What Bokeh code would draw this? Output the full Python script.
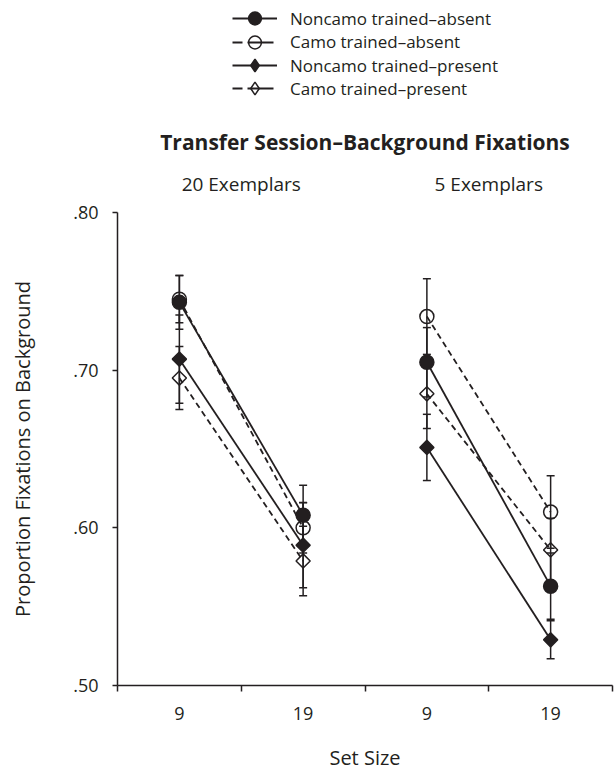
import numpy as np
from bokeh.plotting import figure
from bokeh.models import (Range1d, FixedTicker, Label, Legend, LegendItem,
                          CustomJSTickFormatter)
from bokeh.layouts import column
from bokeh.embed import file_html
from bokeh.resources import INLINE

# --- data -------------------------------------------------------------
panels = ["20 Exemplars", "5 Exemplars"]
set_sizes = ["9", "19", "9", "19"]          # two set sizes per panel
y_ticks = [0.50, 0.60, 0.70, 0.80]

noncamo_absent = [0.743, 0.608, 0.705, 0.563]
camo_absent = [0.745, 0.600, 0.734, 0.610]
noncamo_present = [0.707, 0.589, 0.651, 0.529]
camo_present = [0.695, 0.579, 0.685, 0.586]

noncamo_absent_se = [0.017, 0.019, 0.022, 0.021]
camo_absent_se = [0.015, 0.016, 0.024, 0.023]
noncamo_present_se = [0.028, 0.027, 0.021, 0.012]
camo_present_se = [0.020, 0.022, 0.022, 0.020]

series = [
    ("Noncamo trained\u2013absent", noncamo_absent, noncamo_absent_se, "circle", True, "solid"),
    ("Camo trained\u2013absent", camo_absent, camo_absent_se, "circle", False, "dashed"),
    ("Noncamo trained\u2013present", noncamo_present, noncamo_present_se, "diamond", True, "solid"),
    ("Camo trained\u2013present", camo_present, camo_present_se, "diamond", False, "dashed"),
]

FONT = "Open Sans"
INK = "#231f20"
DASH = "6 4"
KEY_DASH = "10 5 26 10"

# category centres: one slot per set size
xs = np.arange(len(set_sizes)) + 0.5


def marker_kw(shape, filled, for_key=False):
    kw = dict(line_color=INK, line_width=1.5,
              fill_color=INK if filled else None)
    if shape == "circle":
        kw.update(marker="circle", size=14)
    elif for_key:
        # legend keys ignore the glyph angle, so use the rhombus marker there
        kw.update(marker="diamond", size=14)
    else:
        kw.update(marker="square", size=10, angle=np.pi / 4)
    return kw


def segments(vals):
    # one segment per panel: set size 9 -> 19
    vals = np.asarray(vals)
    seg_x = [list(xs[i:i + 2]) for i in range(0, len(xs), 2)]
    seg_y = [list(vals[i:i + 2]) for i in range(0, len(vals), 2)]
    return seg_x, seg_y


# --- header: legend, title, panel headings ----------------------------
HEAD_H = 200
head = figure(width=616, height=HEAD_H, x_range=Range1d(0, 4), y_range=Range1d(0, HEAD_H),
              x_axis_type=None, y_axis_type=None, toolbar_location=None,
              output_backend="svg", min_border_top=0, min_border_bottom=0,
              min_border_left=117, min_border_right=4, outline_line_color=None)

KEY_GLYPH_H = 32
key_rows = [18, 41.5, 65, 88]           # row centres, px from the top
for (name, vals, se, shape, filled, dash), row in zip(series, key_rows):
    sx, sy = segments(vals)
    rl = head.multi_line(xs=sx, ys=sy, line_color=INK, line_width=1.8,
                         line_dash=KEY_DASH if dash == "dashed" else "solid", visible=False)
    rm = head.scatter(x=xs, y=vals, visible=False, **marker_kw(shape, filled, for_key=True))
    leg = Legend(items=[LegendItem(label=name, renderers=[rl, rm])],
                 location=(115, HEAD_H - row - KEY_GLYPH_H / 2),
                 glyph_width=45, glyph_height=KEY_GLYPH_H, label_height=20, spacing=0,
                 label_standoff=13, padding=0, margin=0,
                 border_line_color=None, background_fill_alpha=0,
                 inactive_fill_alpha=0,
                 label_text_font=FONT, label_text_font_size="17px",
                 label_text_color=INK)
    head.add_layout(leg, "center")

head.add_layout(Label(x=2, y=HEAD_H - 141, text="Transfer Session\u2013Background Fixations",
                      text_font=FONT, text_font_size="21px", text_font_style="bold",
                      text_align="center", text_baseline="middle", text_color=INK))
for i, name in enumerate(panels):
    head.add_layout(Label(x=2 * i + 1, y=HEAD_H - 183, text=name,
                          text_font=FONT, text_font_size="19px",
                          text_align="center", text_baseline="middle", text_color=INK))

# --- main chart -------------------------------------------------------
p = figure(width=616, height=773 - HEAD_H, x_range=Range1d(0, 4), y_range=Range1d(0.5, 0.8),
           toolbar_location=None, output_backend="svg",
           min_border_left=117, min_border_right=4,
           min_border_top=212 - HEAD_H, min_border_bottom=87,
           outline_line_color=None)
p.xgrid.visible = False
p.ygrid.visible = False

for name, vals, se, shape, filled, dash in series:
    sx, sy = segments(vals)
    p.multi_line(xs=sx, ys=sy, line_color=INK, line_width=1.8,
                 line_dash=DASH if dash == "dashed" else "solid")

# error bars with caps
for name, vals, se, shape, filled, dash in series:
    vals = np.asarray(vals)
    se = np.asarray(se)
    p.segment(x0=xs, y0=vals - se, x1=xs, y1=vals + se, line_color=INK, line_width=1.5)
    p.scatter(x=np.concatenate([xs, xs]), y=np.concatenate([vals - se, vals + se]),
              marker="dash", size=8, line_color=INK, line_width=1.5)

for name, vals, se, shape, filled, dash in series:
    p.scatter(x=xs, y=vals, **marker_kw(shape, filled))

# axes
p.xaxis.ticker = FixedTicker(ticks=list(xs), minor_ticks=list(range(len(set_sizes) + 1)))
p.xaxis.formatter = CustomJSTickFormatter(args=dict(labels=set_sizes),
                                          code="return labels[Math.floor(tick)];")
p.xaxis.major_tick_out = 0
p.xaxis.major_tick_in = 0
p.xaxis.minor_tick_out = 6
p.xaxis.minor_tick_in = 0
p.xaxis.minor_tick_line_color = INK
p.xaxis.major_label_standoff = 15
p.xaxis.axis_label = "Set Size"
p.xaxis.axis_label_standoff = 21

p.yaxis.ticker = FixedTicker(ticks=y_ticks)
p.yaxis.formatter = CustomJSTickFormatter(code="return tick.toFixed(2).replace(/^0/, '');")
p.yaxis.major_tick_out = 5
p.yaxis.major_tick_in = 0
p.yaxis.minor_tick_line_color = None
p.yaxis.major_label_standoff = 14
p.yaxis.axis_label = "Proportion Fixations on Background"
p.yaxis.axis_label_standoff = 34

for ax in (p.xaxis[0], p.yaxis[0]):
    ax.axis_line_color = INK
    ax.axis_line_width = 1.5
    ax.major_tick_line_color = INK
    ax.major_tick_line_width = 1.5
    ax.minor_tick_line_width = 1.5
    ax.major_label_text_font = FONT
    ax.major_label_text_font_size = "18px"
    ax.major_label_text_color = INK
    ax.axis_label_text_font = FONT
    ax.axis_label_text_font_size = "20px"
    ax.axis_label_text_font_style = "normal"
    ax.axis_label_text_color = INK

layout = column(head, p, spacing=0)
open("out.html", "w").write(file_html(layout, INLINE))
